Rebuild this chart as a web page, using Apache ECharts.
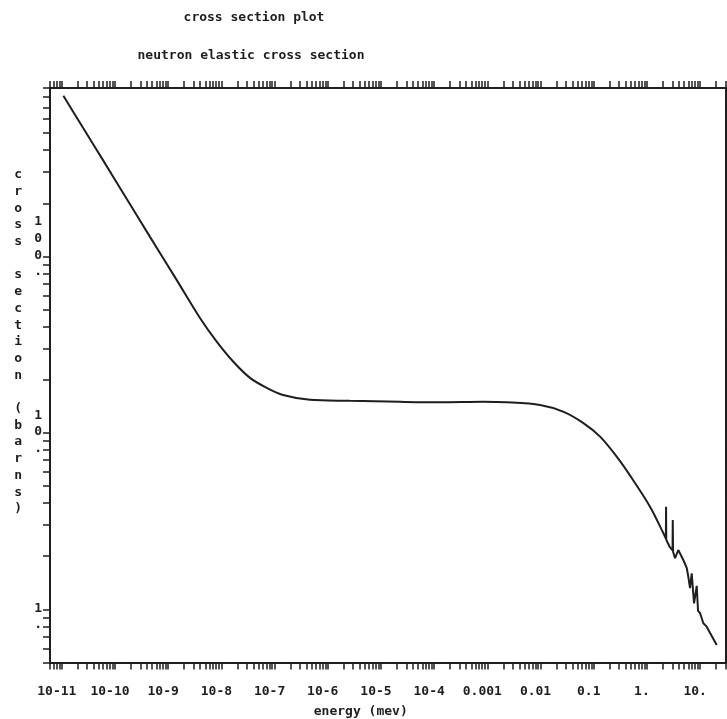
<!DOCTYPE html>
<html>
<head>
<meta charset="utf-8">
<title>cross section plot</title>
<script src="https://cdn.jsdelivr.net/npm/echarts@6/dist/echarts.min.js"></script>
<style>
  html, body { margin: 0; padding: 0; background: #fff; }
  #chart { width: 727px; height: 719px; }
</style>
</head>
<body>
<div id="chart"></div>
<script>
// Smooth part of the elastic cross section (energy in MeV, cross section in barns)
const energyMeV = [
  1.07e-11, 2.54e-11, 6.03e-11, 1.43e-10, 4.55e-10, 1.45e-9, 3.96e-9, 8.17e-9,
  1.68e-8, 3.45e-8, 7.11e-8, 1.44e-7, 4.63e-7, 2.6e-6, 2.28e-5, 1.29e-4,
  8.3e-4, 2.31e-3, 9.78e-3, 2.65e-2, 6.3e-2, 0.1315, 0.2706, 0.548, 1.144, 1.90
];
const crossSectionBarns = [
  814, 532, 349, 228, 129, 73.4, 44.8, 32.9,
  25.3, 20.5, 18.0, 16.4, 15.4, 15.2, 15.0, 14.9,
  15.0, 14.9, 14.4, 13.2, 11.4, 9.52, 7.33, 5.41, 3.82, 2.82
];

// Resonance region above ~2 MeV
const resonanceEnergyMeV = [
  1.90, 2.27, 2.29, 2.31, 2.70, 3.03, 3.06, 3.10, 3.38, 3.89, 4.83,
  5.60, 6.00, 6.46, 6.95, 7.69, 8.63, 9.14, 9.96, 11.5, 13.3, 15.4, 20.5
];
const resonanceBarns = [
  2.82, 2.52, 3.82, 2.48, 2.25, 2.16, 3.21, 2.12, 1.95, 2.17, 1.905,
  1.72, 1.53, 1.32, 1.60, 1.08, 1.36, 0.98, 0.954, 0.834, 0.798, 0.735, 0.629
];

// Axis decades and their printed labels
const xTickDecades = [-11, -10, -9, -8, -7, -6, -5, -4, -3, -2, -1, 0, 1];
const xTickLabels = ['10-11', '10-10', '10-9', '10-8', '10-7', '10-6', '10-5', '10-4',
                     '0.001', '0.01', '0.1', '1.', '10.'];
const yTickDecades = [0, 1, 2];
const yTickLabels = ['1.', '10.', '100.'];

const xRange = [6e-12, 30];
const yRange = [0.5, 900];

const log10 = Math.log10;

// 1..9 x 10^n tick marks inside a range, expressed as exponents
function logTickPositions(lo, hi) {
  const out = [];
  for (let d = Math.floor(log10(lo)); d <= Math.ceil(log10(hi)); d++) {
    for (let k = 1; k < 10; k++) {
      const v = k * Math.pow(10, d);
      if (v >= lo * 0.9999 && v <= hi * 1.0001) out.push(log10(v));
    }
  }
  return out;
}

const toPoints = (xs, ys) => xs.map((x, i) => [log10(x), log10(ys[i])]);

// Stack the characters of a string one per line, padding the end with
// blank lines so the visible text sits higher than the block's centre
const stacked = (s, blankLines) => s.split('').join('\n') + '\n'.repeat(blankLines || 0);

const ink = '#1e1e1e';
const font = {
  fontFamily: 'DejaVu Sans Mono',
  fontWeight: 'bold',
  fontSize: 13,
  color: ink
};

const xTicks = logTickPositions(xRange[0], xRange[1]);
const yTicks = logTickPositions(yRange[0], yRange[1]);

const frameLine = { show: true, onZero: false, lineStyle: { color: ink, width: 2 } };
const tickStyle = { show: true, inside: false, length: 7, lineStyle: { color: ink, width: 1.5 } };

const chart = echarts.init(document.getElementById('chart'), null, { renderer: 'canvas' });

chart.setOption({
  backgroundColor: '#fff',
  animation: false,
  title: [
    { text: 'cross section plot', left: 249, top: 6, textAlign: 'center',
      textStyle: Object.assign({}, font) },
    { text: 'neutron elastic cross section', left: 246, top: 44, textAlign: 'center',
      textStyle: Object.assign({}, font) }
  ],
  grid: { left: 50, right: 1.5, top: 88, bottom: 56.5, containLabel: false, outerBoundsMode: 'none' },
  xAxis: [
    {
      type: 'value',
      position: 'bottom',
      min: log10(xRange[0]),
      max: log10(xRange[1]),
      axisLine: frameLine,
      axisTick: Object.assign({ customValues: xTicks }, tickStyle),
      axisLabel: Object.assign({
        customValues: xTickDecades,
        margin: 23,
        padding: [0, 10, 0, 0],
        formatter: v => xTickLabels[xTickDecades.indexOf(Math.round(v))]
      }, font),
      splitLine: { show: false },
      name: 'energy (mev)',
      nameLocation: 'middle',
      nameGap: 43,
      nameMoveOverlap: false,
      nameTextStyle: Object.assign({ padding: [0, 54, 0, 0] }, font)
    },
    {
      type: 'value',
      position: 'top',
      min: log10(xRange[0]),
      max: log10(xRange[1]),
      axisLine: frameLine,
      axisTick: Object.assign({ customValues: xTicks }, tickStyle),
      axisLabel: { show: false },
      splitLine: { show: false }
    }
  ],
  yAxis: [
    {
      type: 'value',
      position: 'left',
      min: log10(yRange[0]),
      max: log10(yRange[1]),
      axisLine: frameLine,
      axisTick: Object.assign({ customValues: yTicks }, tickStyle),
      axisLabel: Object.assign({
        customValues: yTickDecades,
        margin: 8,
        align: 'right',
        verticalAlign: 'bottom',
        lineHeight: 16.7,
        padding: [0, 0, -24, 0],
        formatter: v => stacked(yTickLabels[yTickDecades.indexOf(Math.round(v))])
      }, font),
      splitLine: { show: false },
      name: stacked('cross section (barns)', 4),
      nameLocation: 'middle',
      nameRotate: 0,
      nameGap: 28,
      nameMoveOverlap: false,
      nameTextStyle: Object.assign({ lineHeight: 16.7 }, font)
    },
    {
      type: 'value',
      position: 'right',
      min: log10(yRange[0]),
      max: log10(yRange[1]),
      axisLine: frameLine,
      axisTick: Object.assign({ customValues: yTicks }, tickStyle),
      axisLabel: { show: false },
      splitLine: { show: false }
    }
  ],
  series: [
    {
      name: 'elastic',
      type: 'line',
      xAxisIndex: 0,
      yAxisIndex: 0,
      data: toPoints(energyMeV, crossSectionBarns),
      showSymbol: false,
      smooth: 0.3,
      lineStyle: { color: ink, width: 2 }
    },
    {
      name: 'elastic resonances',
      type: 'line',
      xAxisIndex: 0,
      yAxisIndex: 0,
      data: toPoints(resonanceEnergyMeV, resonanceBarns),
      showSymbol: false,
      smooth: false,
      lineStyle: { color: ink, width: 2 }
    }
  ]
});
</script>
</body>
</html>
